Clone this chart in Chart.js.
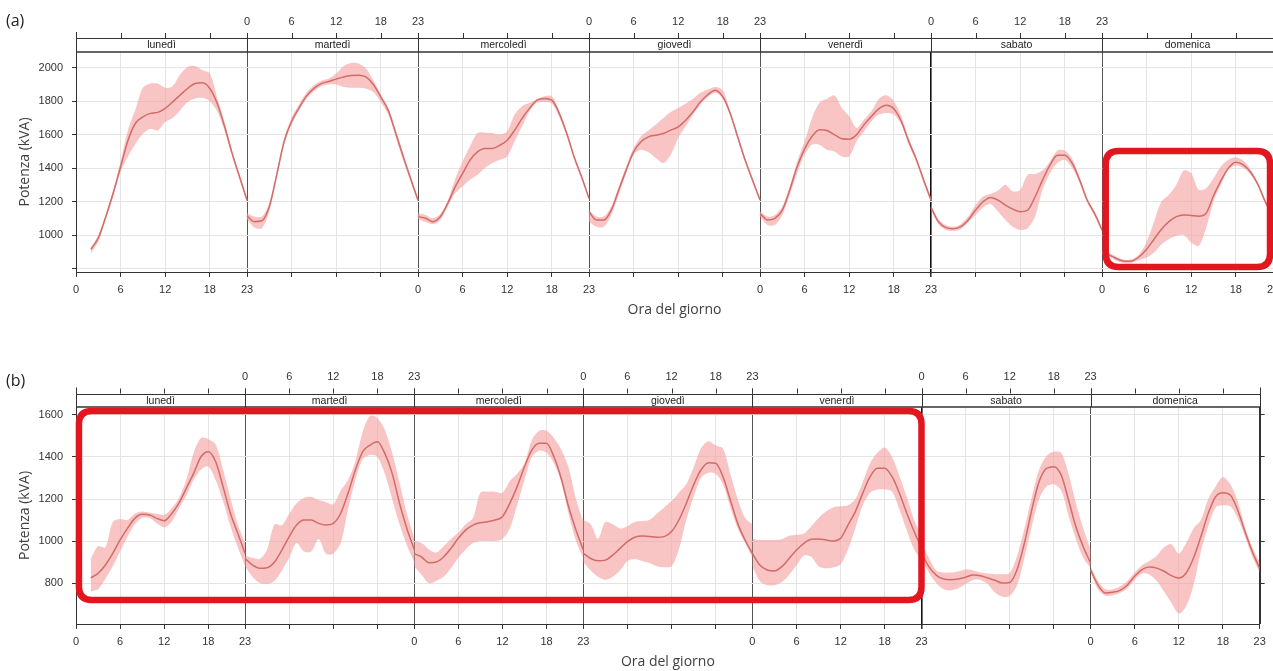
<!DOCTYPE html>
<html><head><meta charset="utf-8">
<script src="https://cdn.jsdelivr.net/npm/chart.js@4/dist/chart.umd.min.js"></script>
<style>
html,body{margin:0;padding:0;background:#fff;overflow:hidden;width:1273px;height:671px}
canvas{position:absolute;left:0;display:block}
</style></head><body>
<canvas id="ca" width="1273" height="335" style="top:0px"></canvas>
<canvas id="cb" width="1273" height="336" style="top:335px"></canvas>
<script>
// ---------- DATA ----------
const days = ['lunedì','martedì','mercoledì','giovedì','venerdì','sabato','domenica'];
const hours = [0,1,2,3,4,5,6,7,8,9,10,11,12,13,14,15,16,17,18,19,20,21,22,23];
const hourTicks = [0,6,12,18,23];
const yTicksA = [800,1000,1200,1400,1600,1800,2000];
const yTicksB = [800,1000,1200,1400,1600];

// Panel (a)
const meanA = [
 [null,null,915,982,1109,1250,1408,1567,1668,1706,1727,1733,1757,1796,1836,1876,1906,1910,1876,1786,1647,1488,1348,1209],
 [1115,1080,1085,1170,1360,1560,1680,1760,1830,1877,1905,1918,1932,1945,1953,1955,1945,1900,1825,1745,1610,1470,1338,1209],
 [1110,1100,1080,1109,1189,1288,1368,1448,1497,1517,1517,1537,1567,1627,1697,1757,1806,1816,1806,1727,1608,1467,1348,1219],
 [1139,1090,1090,1149,1269,1388,1497,1557,1587,1597,1607,1627,1646,1686,1737,1796,1840,1866,1826,1727,1587,1448,1328,1209],
 [1129,1090,1100,1149,1269,1408,1515,1590,1630,1625,1600,1575,1572,1600,1660,1710,1755,1775,1755,1680,1560,1455,1330,1209],
 [1165,1080,1044,1038,1050,1090,1149,1199,1225,1209,1179,1155,1139,1149,1229,1328,1418,1477,1477,1428,1328,1209,1129,1030],
 [895,880,858,843,845,870,915,975,1035,1080,1110,1120,1117,1112,1130,1235,1325,1400,1435,1420,1375,1300,1195,1110]
];
const highA = [
 [null,null,925,1000,1120,1270,1440,1630,1750,1880,1905,1905,1880,1890,1960,2005,2010,1985,1966,1820,1670,1507,1360,1220],
 [1130,1110,1110,1190,1380,1580,1700,1780,1850,1895,1922,1935,1965,2010,2028,2025,1995,1925,1840,1760,1630,1490,1355,1222],
 [1130,1120,1100,1125,1205,1335,1440,1530,1610,1612,1610,1600,1620,1720,1770,1790,1810,1830,1830,1740,1620,1480,1360,1225],
 [1150,1110,1110,1170,1290,1410,1520,1590,1625,1660,1700,1735,1760,1785,1815,1850,1870,1885,1865,1740,1600,1460,1340,1220],
 [1140,1110,1120,1170,1290,1440,1560,1700,1790,1815,1835,1760,1710,1640,1690,1740,1815,1835,1800,1710,1580,1470,1340,1220],
 [1175,1095,1060,1050,1065,1110,1180,1230,1245,1265,1300,1260,1270,1360,1365,1385,1440,1505,1505,1455,1345,1220,1140,1040],
 [905,892,868,852,855,885,960,1080,1200,1240,1300,1385,1370,1270,1280,1340,1410,1450,1465,1445,1390,1310,1205,1120]
];
const lowA = [
 [null,null,890,960,1090,1230,1380,1470,1545,1605,1635,1625,1675,1700,1745,1795,1815,1820,1800,1740,1620,1470,1330,1195],
 [1095,1045,1040,1140,1340,1540,1660,1745,1815,1860,1890,1900,1900,1885,1880,1880,1875,1855,1795,1720,1585,1445,1320,1195],
 [1095,1080,1065,1090,1170,1250,1290,1330,1360,1400,1430,1450,1470,1560,1650,1740,1790,1795,1785,1705,1590,1455,1335,1210],
 [1080,1050,1050,1120,1240,1370,1480,1510,1495,1460,1430,1480,1580,1650,1720,1780,1825,1850,1815,1710,1570,1435,1315,1200],
 [1110,1060,1060,1120,1240,1370,1480,1540,1540,1510,1500,1470,1470,1560,1620,1680,1720,1730,1720,1660,1540,1440,1310,1195],
 [1150,1065,1030,1025,1035,1075,1120,1165,1185,1140,1090,1050,1030,1040,1110,1270,1370,1430,1450,1400,1310,1195,1115,1020],
 [885,870,845,833,833,850,865,895,945,975,995,1000,955,935,1040,1200,1300,1390,1415,1400,1360,1290,1185,1100]
];

// Panel (b)
const meanB = [
 [null,null,825,846,886,941,1005,1060,1108,1127,1124,1108,1097,1130,1180,1251,1322,1401,1425,1377,1259,1132,1037,941],
 [917,886,870,873,900,957,1021,1076,1100,1100,1084,1076,1084,1132,1227,1338,1425,1457,1473,1417,1322,1180,1060,960],
 [940,924,897,900,924,965,1013,1052,1076,1087,1092,1100,1116,1179,1259,1354,1433,1465,1465,1401,1298,1163,1052,957],
 [941,917,906,909,933,965,997,1018,1024,1021,1018,1021,1045,1100,1179,1267,1338,1373,1370,1306,1195,1084,1005,941],
 [941,886,862,857,878,917,957,989,1008,1010,1005,1000,1013,1076,1140,1227,1306,1346,1346,1306,1227,1132,1045,965],
 [941,878,838,819,816,819,828,838,835,824,813,800,803,864,990,1148,1283,1346,1354,1314,1195,1068,973,895],
 [862,791,753,756,765,791,832,864,876,871,856,835,824,848,919,1021,1132,1211,1230,1219,1148,1045,949,870]
];
const highB = [
 [null,null,915,975,970,1090,1105,1100,1130,1140,1135,1130,1125,1155,1205,1290,1420,1490,1485,1460,1340,1205,1080,990],
 [930,920,915,960,1080,1075,1130,1180,1205,1210,1195,1185,1175,1240,1290,1380,1520,1595,1585,1530,1420,1280,1130,1015],
 [1000,990,960,945,975,1010,1040,1080,1110,1230,1235,1235,1230,1285,1320,1370,1480,1525,1525,1490,1435,1350,1200,1090],
 [1100,1080,1010,1090,1080,1060,1070,1090,1095,1100,1130,1160,1190,1230,1270,1350,1440,1475,1455,1440,1320,1200,1110,1080],
 [1010,1005,1005,1005,1008,1025,1030,1035,1070,1110,1140,1160,1165,1170,1200,1280,1370,1420,1445,1400,1310,1210,1100,1030],
 [990,920,860,850,850,855,865,860,850,845,842,842,848,930,1060,1210,1340,1405,1425,1420,1320,1180,1060,960],
 [880,810,770,770,785,810,850,885,905,930,970,985,940,990,1060,1100,1200,1260,1305,1270,1190,1065,970,900]
];
const lowB = [
 [null,null,760,770,820,880,950,1020,1080,1110,1110,1085,1065,1090,1155,1215,1290,1340,1355,1290,1190,1070,970,880],
 [880,830,800,795,810,860,920,990,950,950,1010,940,940,990,1150,1290,1390,1410,1400,1320,1200,1080,980,900],
 [880,840,800,810,830,870,920,960,990,1000,1000,1000,1010,1060,1170,1290,1400,1430,1420,1370,1280,1130,1000,920],
 [900,860,830,815,830,860,905,915,905,895,880,875,880,960,1100,1210,1300,1325,1320,1270,1160,1060,990,920],
 [880,810,790,790,805,840,885,930,925,880,870,875,890,960,1060,1170,1230,1245,1245,1235,1150,1050,960,910],
 [920,850,800,770,765,775,795,815,815,795,755,735,740,790,920,1070,1200,1260,1270,1240,1120,1010,920,870],
 [850,770,740,742,752,775,815,845,840,810,760,705,655,690,790,950,1070,1160,1170,1165,1110,1020,925,850]
];

// highlight boxes in data space: [xFrom, xTo, yLow, yHigh]
const boxA = [138.5, 160.6, 809, 1502];
const boxB = [0.4, 115, 719, 1619];

// ---------- STYLE ----------
const LINE = '#d26c69';
const BAND = 'rgba(245,160,160,0.62)';
const DARK = '#333333';
const LIGHTGRID = '#e4e4e4';
const TICKFONT = '11px "Liberation Sans", Arial, sans-serif';

function pts(arr, d){
  const out=[];
  hours.forEach((h,i)=>{ if(arr[d][i]!=null) out.push({x:23*d+h, y:arr[d][i]}); });
  return out;
}
function buildDatasets(mean, low, high){
  const ds=[];
  for(let d=0; d<days.length; d++){
    const hiIdx = ds.length;
    ds.push({data:pts(high,d), borderWidth:0, pointRadius:0, fill:false, tension:0.3, order:3, borderColor:'rgba(0,0,0,0)'});
    ds.push({data:pts(low,d), borderWidth:0, pointRadius:0, fill:{target:hiIdx}, backgroundColor:BAND, tension:0.3, order:2, borderColor:'rgba(0,0,0,0)'});
  }
  for(let d=0; d<days.length; d++){
    ds.push({data:pts(mean,d), borderColor:LINE, borderWidth:1.5, pointRadius:0, fill:false, cubicInterpolationMode:'monotone', order:1});
  }
  return ds;
}

const xTickVals = [];
for(let d=0; d<days.length; d++) [0,6,12,18].forEach(h=>xTickVals.push(23*d+h));
xTickVals.push(23*days.length);

function line(ctx,x1,y1,x2,y2){ctx.beginPath();ctx.moveTo(x1,y1);ctx.lineTo(x2,y2);ctx.stroke();}
function al(v){return Math.round(v)+0.5;}
function roundRect(ctx,x,y,w,h,r){
  ctx.beginPath();
  ctx.moveTo(x+r,y);ctx.lineTo(x+w-r,y);ctx.quadraticCurveTo(x+w,y,x+w,y+r);
  ctx.lineTo(x+w,y+h-r);ctx.quadraticCurveTo(x+w,y+h,x+w-r,y+h);
  ctx.lineTo(x+r,y+h);ctx.quadraticCurveTo(x,y+h,x,y+h-r);
  ctx.lineTo(x,y+r);ctx.quadraticCurveTo(x,y,x+r,y);ctx.closePath();
}

const latticePlugin = {
  id:'lattice',
  afterDraw(chart, args, o){
    const ctx = chart.ctx, ca = chart.chartArea, xs = chart.scales.x, ys = chart.scales.y;
    const sTop = ca.top - o.stripH;
    ctx.save();
    ctx.strokeStyle = DARK; ctx.lineWidth = 1;
    line(ctx, ca.left, al(sTop), ca.right+1, al(sTop));
    ctx.lineWidth = 1.4;
    line(ctx, ca.left, ca.top, ca.right+1, ca.top);
    ctx.lineWidth = 1;
    line(ctx, al(ca.left), sTop-6, al(ca.left), ca.top);
    line(ctx, al(ca.right), sTop-6, al(ca.right), ca.bottom);
    for(let d=1; d<days.length; d++){
      const x = al(xs.getPixelForValue(23*d));
      line(ctx, x, sTop, x, ca.top);
    }
    for(let d=0; d<days.length; d++){
      hourTicks.forEach(h=>{
        const x = al(xs.getPixelForValue(23*d+h));
        line(ctx, x, sTop-5, x, sTop);
      });
    }
    ctx.fillStyle = '#222';
    ctx.font = '10.5px "Liberation Sans", Arial, sans-serif';
    ctx.textAlign = 'center'; ctx.textBaseline = 'middle';
    days.forEach((n,d)=>{
      const x = xs.getPixelForValue(23*d+11.5);
      ctx.fillText(n, x, sTop + o.stripH/2 + 0.5);
    });
    ctx.font = TICKFONT; ctx.fillStyle = '#333';
    for(let d=0; d<days.length; d++){
      hourTicks.forEach(h=>{
        const x = xs.getPixelForValue(23*d+h);
        if(d%2===0) ctx.fillText(String(h), x, ca.bottom + 18);
        else ctx.fillText(String(h), x, sTop - 16.5);
      });
    }
    ctx.fillStyle = '#404040';
    ctx.font = '14px "Open Sans", "Noto Sans", sans-serif';
    ctx.fillText('Ora del giorno', (ca.left+ca.right)/2, ca.bottom + o.titleOff);
    ctx.save();
    ctx.translate(25, (ca.top+ca.bottom)/2);
    ctx.rotate(-Math.PI/2);
    ctx.fillText('Potenza (kVA)', 0, 0);
    ctx.restore();
    ctx.textAlign = 'left';
    ctx.fillStyle = '#222';
    ctx.font = '16px "Open Sans", "Noto Sans", sans-serif';
    ctx.fillText(o.letter, 6, o.letterY);
    const b = o.box;
    const x0 = xs.getPixelForValue(b[0]), x1 = xs.getPixelForValue(b[1]);
    const y0 = ys.getPixelForValue(b[3]), y1 = ys.getPixelForValue(b[2]);
    ctx.strokeStyle = '#e3161f'; ctx.lineWidth = 6.5;
    roundRect(ctx, x0, y0, x1-x0, y1-y0, 13);
    ctx.stroke();
    ctx.restore();
  }
};

function makeChart(id, mean, low, high, yMin, yMax, yTicks, hide800, opts){
  const scales = {
    x:{
      type:'linear', min:0, max:23*days.length,
      afterBuildTicks(s){ s.ticks = xTickVals.map(v=>({value:v})); },
      afterFit(s){ s.height = opts.xAxisH; },
      ticks:{display:false},
      grid:{
        color(c){ const v=c.tick?c.tick.value:-1; if(v===115) return '#111'; return (v%23===0)?'#555':LIGHTGRID; },
        lineWidth(c){ const v=c.tick?c.tick.value:-1; return v===115?1.6:1; },
        tickColor:DARK, tickLength:5
      },
      border:{color:DARK, width:1}
    },
    y:{
      type:'linear', position:'left', min:yMin, max:yMax,
      afterBuildTicks(s){ s.ticks = yTicks.map(v=>({value:v})); },
      afterFit(s){ s.width = 76; },
      ticks:{ padding:9, color:'#333', font:{family:'"Liberation Sans", Arial, sans-serif', size:11},
        callback(v){ return (hide800 && v===800) ? '' : String(v); } },
      grid:{ color:LIGHTGRID, tickColor:DARK, tickLength:4 },
      border:{color:DARK, width:1}
    }
  };
  if(opts.rightAxis){
    scales.y2 = {
      type:'linear', position:'right', min:yMin, max:yMax,
      afterBuildTicks(s){ s.ticks = yTicks.map(v=>({value:v})); },
      afterFit(s){ s.width = opts.rightW; },
      ticks:{display:false},
      grid:{ drawOnChartArea:false, tickColor:DARK, tickLength:5 },
      border:{color:DARK, width:1}
    };
  }
  return new Chart(document.getElementById(id), {
    type:'line',
    data:{ datasets: buildDatasets(mean, low, high) },
    options:{
      responsive:false, animation:false, devicePixelRatio:1,
      layout:{ padding:{ top:opts.top, left:0, right:0, bottom:0 } },
      plugins:{ legend:{display:false}, tooltip:{enabled:false},
        lattice:{ stripH:opts.stripH, titleOff:opts.titleOff, letter:opts.letter, letterY:opts.letterY, box:opts.box } },
      scales
    },
    plugins:[latticePlugin]
  });
}

makeChart('ca', meanA, lowA, highA, 779, 2094, yTicksA, true,
  {top:52, xAxisH:63, stripH:14, titleOff:38, letter:'(a)', letterY:21, box:boxA, rightAxis:false});
makeChart('cb', meanB, lowB, highB, 605, 1638, yTicksB, false,
  {top:72, xAxisH:47, stripH:13.5, titleOff:38.5, letter:'(b)', letterY:46, box:boxB, rightAxis:true, rightW:13.3});
</script>
</body></html>
